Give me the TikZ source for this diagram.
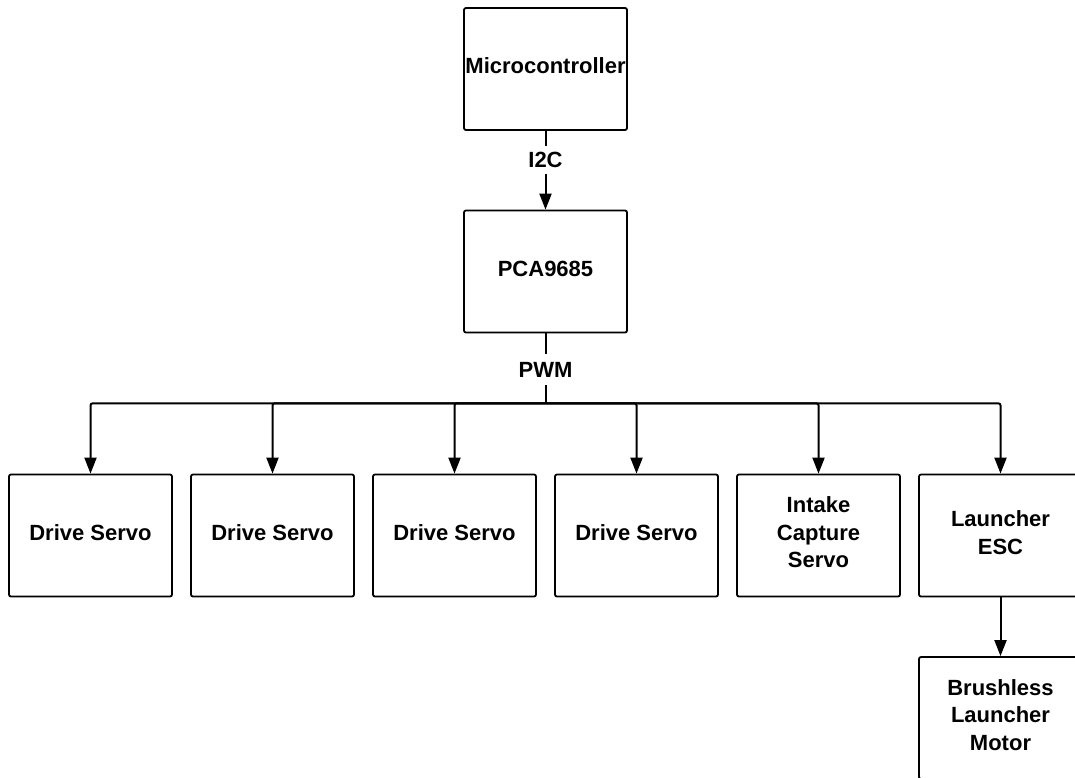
\documentclass[tikz,border=0pt]{standalone}
\usepackage{fontspec}
\setmainfont{Liberation Sans}
\usetikzlibrary{arrows.meta}
\begin{document}
\begin{tikzpicture}[x=1pt,y=-1pt,
  box/.style={draw=black, line width=1.8pt, rounded corners=2pt, minimum width=163pt, minimum height=122pt, align=center, inner sep=0pt, text depth=6pt, font=\fontsize{22}{27.5}\selectfont\bfseries, fill=white},
  conn/.style={draw=black, line width=2pt},
  arr/.style={conn, -{Triangle[length=16pt,width=12pt]}},
  lbl/.style={fill=white, font=\fontsize{22}{27}\selectfont\bfseries, inner xsep=2pt}]
\useasboundingbox (0,0) rectangle (1075,777);
\clip (0,0) rectangle (1075,777);
\node[box] (mc) at (545.5,69) {Microcontroller};
\node[box] (pca) at (545.5,271.5) {PCA9685};
\node[box] (d1) at (90.5,535.5) {Drive Servo};
\node[box] (d2) at (272.5,535.5) {Drive Servo};
\node[box] (d3) at (454.5,535.5) {Drive Servo};
\node[box] (d4) at (636.5,535.5) {Drive Servo};
\node[box] (ic) at (818.5,535.5) {Intake\\Capture\\Servo};
\node[box] (esc) at (1000.5,535.5) {Launcher\\ESC};
\node[box] (bl) at (1000.5,718) {Brushless\\Launcher\\Motor};
\draw[arr] (mc) -- node[lbl, inner ysep=6pt, pos=0.37] (i2c) {I2C} (pca);
\path (pca.south) ++(0,70) coordinate (bus);
\draw[conn] (pca) -- node[lbl, inner ysep=8pt, pos=0.52] (pwm) {PWM} (bus);
\foreach \t in {d1,d2,d3,d4,ic,esc}{
  \draw[arr, rounded corners=2pt] (bus) -| (\t.north);
}
\draw[arr] (esc) -- (bl);
\end{tikzpicture}
\end{document}
